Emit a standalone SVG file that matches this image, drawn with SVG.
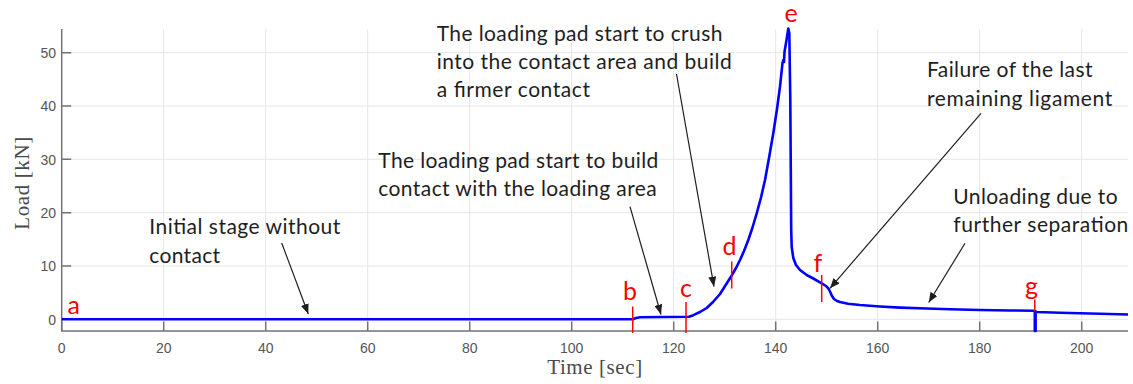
<svg xmlns="http://www.w3.org/2000/svg" width="1133" height="384" viewBox="0 0 1133 384">
<style>
.grid{stroke:#e6e6e6;stroke-width:1;fill:none}
.axis{stroke:#737373;stroke-width:1.5;fill:none}
.tick{font-family:"Liberation Sans",Arial,sans-serif;font-size:14px;fill:#555}
.ylab{font-family:"Liberation Serif","Times New Roman",serif;font-size:21px;fill:#4a4a4a}
.note{font-family:Lato,"Liberation Sans",sans-serif;font-size:21px;fill:#1e1e1e}
.mark{font-family:Lato,"Liberation Sans",sans-serif;font-size:25px;fill:#ff0000}
.rl{stroke:#ff0000;stroke-width:1.5}
.arr{stroke:#1e1e1e;stroke-width:1.2;fill:none;marker-end:url(#ah)}
.curve{stroke:#0000ff;stroke-width:2.6;fill:none;stroke-linejoin:round}
</style>
<defs>
<marker id="ah" markerUnits="userSpaceOnUse" markerWidth="10" markerHeight="8" viewBox="0 0 10 8" refX="10" refY="4" orient="auto">
<path d="M0,0 L10,4 L0,8 z" fill="#1e1e1e"/>
</marker>
</defs>
<rect width="1133" height="384" fill="#ffffff"/>
<g id="grid">
<path class="grid" d="M163.7,29V331M265.7,29V331M367.7,29V331M469.7,29V331M571.7,29V331M673.7,29V331M775.7,29V331M877.7,29V331M979.7,29V331M1081.7,29V331"/>
<path class="grid" d="M61.7,319.3H1128M61.7,266H1128M61.7,212.7H1128M61.7,159.3H1128M61.7,106H1128M61.7,52.7H1128"/>
</g>
<g id="axes">
<path class="axis" d="M61.7,29V331H1128"/>
<path class="axis" d="M61.7,321.5V331M163.7,321.5V331M265.7,321.5V331M367.7,321.5V331M469.7,321.5V331M571.7,321.5V331M673.7,321.5V331M775.7,321.5V331M877.7,321.5V331M979.7,321.5V331M1081.7,321.5V331"/>
<path class="axis" d="M61.7,319.3H71.2M61.7,266H71.2M61.7,212.7H71.2M61.7,159.3H71.2M61.7,106H71.2M61.7,52.7H71.2"/>
<g class="tick" text-anchor="end">
<text x="56" y="324.5">0</text>
<text x="56" y="271.2">10</text>
<text x="56" y="217.9">20</text>
<text x="56" y="164.5">30</text>
<text x="56" y="111.2">40</text>
<text x="56" y="57.9">50</text>
</g>
<g class="tick" text-anchor="middle">
<text x="61.7" y="352.5">0</text>
<text x="163.7" y="352.5">20</text>
<text x="265.7" y="352.5">40</text>
<text x="367.7" y="352.5">60</text>
<text x="469.7" y="352.5">80</text>
<text x="571.7" y="352.5">100</text>
<text x="673.7" y="352.5">120</text>
<text x="775.7" y="352.5">140</text>
<text x="877.7" y="352.5">160</text>
<text x="979.7" y="352.5">180</text>
<text x="1081.7" y="352.5">200</text>
</g>
<text class="ylab" text-anchor="middle" x="594.7" y="374" textLength="95">Time [sec]</text>
<text class="ylab" text-anchor="middle" transform="translate(29,183.3) rotate(-90)" textLength="93">Load [kN]</text>
</g>
<g id="data">
<path class="curve" d="M61.7,319.3 L633,319.3 L636,318 L640,317.3 L689,316.8 L693.3,315.2 L700,312 L706.7,308 L713,302 L720,294 L726,284.5 L731.7,275.5 L736,268 L740,260 L744,251 L748.3,240 L752.5,227.5 L756.7,213.3 L761,197.5 L765,180 L769,158 L773.3,133.3 L777,109 L780,86.7 L782.5,63 L783.3,60 L784,62 L784.5,52 L786.5,40 L788.3,28.5 L789.3,33 L790.3,100 L791.2,230 L791.7,247 L793.3,258 L796,265 L800,270 L806.7,275 L813.3,278.5 L821.7,283.3 L826,286 L828.3,288.3 L830,291.5 L831.7,295.5 L834,299 L837,301 L840,302 L848,303.8 L860,305 L880,306.5 L900,307.6 L926.7,308.5 L950,309.2 L980,310 L1010,310.5 L1034,310.7 L1034.8,311 L1034.8,331 L1035.6,331 L1035.6,311.5 L1037,312 L1060,312.8 L1080,313.3 L1100,313.8 L1128,314.5"/>
</g>
<g id="markers">
<line class="rl" x1="632.7" y1="306.5" x2="632.7" y2="333"/>
<line class="rl" x1="686" y1="302" x2="686" y2="333"/>
<line class="rl" x1="731.7" y1="261.5" x2="731.7" y2="288.5"/>
<line class="rl" x1="821.7" y1="275" x2="821.7" y2="302"/>
<line class="rl" x1="1034.8" y1="299.5" x2="1034.8" y2="311.5"/>
<text class="mark" x="67.5" y="313.5">a</text>
<text class="mark" x="623" y="299.5">b</text>
<text class="mark" x="680" y="296.7">c</text>
<text class="mark" x="722.5" y="255">d</text>
<text class="mark" x="784.5" y="22">e</text>
<text class="mark" x="813.5" y="271.7">f</text>
<text class="mark" x="1025" y="295">g</text>
</g>
<g id="note-initial" class="note">
<text x="149.3" y="233.5" textLength="191">Initial stage without</text>
<text x="149.3" y="262.5" textLength="70.7">contact</text>
</g>
<g id="note-build" class="note">
<text x="378.3" y="167.5" textLength="280">The loading pad start to build</text>
<text x="378.3" y="196" textLength="278.4">contact with the loading area</text>
</g>
<g id="note-crush" class="note">
<text x="436.7" y="40.7" textLength="285.7">The loading pad start to crush</text>
<text x="436.7" y="69.3" textLength="295">into the contact area and build</text>
<text x="436.7" y="97.3" textLength="153.3">a firmer contact</text>
</g>
<g id="note-failure" class="note">
<text x="927" y="77.3" textLength="165.5">Failure of the last</text>
<text x="927" y="105.7" textLength="185.3">remaining ligament</text>
</g>
<g id="note-unloading" class="note">
<text x="953.3" y="204" textLength="164.3">Unloading due to</text>
<text x="953.3" y="232.3" textLength="175">further separation</text>
</g>
<g id="connectors">
<line class="arr" x1="281.7" y1="243" x2="308.3" y2="314"/>
<line class="arr" x1="630" y1="206.7" x2="661" y2="314.5"/>
<line class="arr" x1="676.5" y1="74" x2="714" y2="286.7"/>
<line class="arr" x1="981" y1="113.3" x2="830" y2="288.3"/>
<line class="arr" x1="965" y1="243.3" x2="928.7" y2="302.5"/>
</g>
</svg>
